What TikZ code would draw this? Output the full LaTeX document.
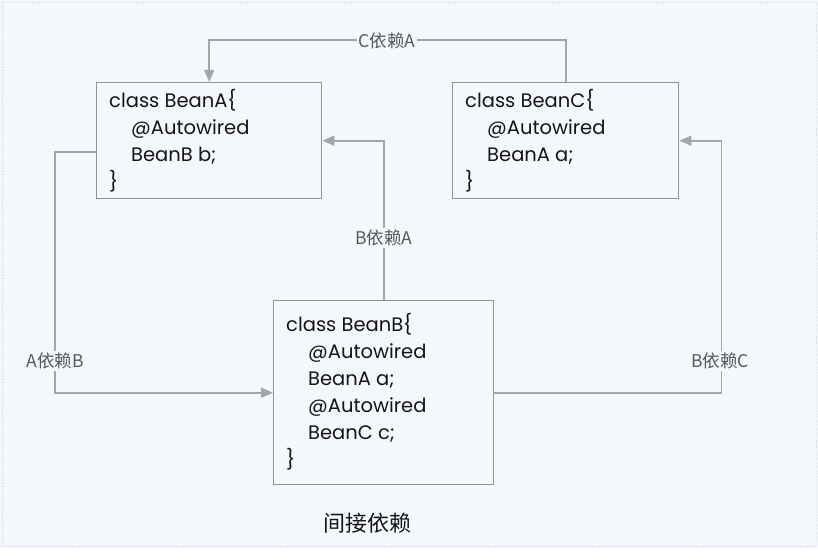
\documentclass[tikz,border=0pt]{standalone}
\usepackage{fontspec}
\setmainfont{Poppins}
\newfontfamily\cjk{Noto Sans CJK SC}
\usetikzlibrary{arrows.meta,calc}
\definecolor{bg}{HTML}{F4F7FC}
\definecolor{linec}{HTML}{A2A6AB}
\definecolor{boxc}{HTML}{8E9398}
\definecolor{txt}{HTML}{151515}
\definecolor{lbl}{HTML}{55585D}
\tikzset{
  beanbox/.style={draw=boxc, line width=1.4pt, fill=bg, anchor=north west, inner sep=0pt},
  code/.style={anchor=north west, align=left, inner sep=0pt, text=txt,
    font=\fontsize{19.5}{27}\selectfont},
  conn/.style={draw=linec, line width=1.6pt, -{Triangle[length=12pt,width=10pt]}},
  lab/.style={fill=bg, inner sep=2pt, text=lbl, font=\cjk\fontsize{17.5}{19}\selectfont},
}
\begin{document}
\begin{tikzpicture}[x=1pt,y=-1pt]
\useasboundingbox (0,0) rectangle (818,559);
\fill[white] (0,0) rectangle (818,559);
\fill[bg] (0,0) rectangle (818,548);
\draw[boxc!40, dotted, line width=0.6pt] (2,2) rectangle (816,546);

\node[beanbox, minimum width=225pt, minimum height=116pt] (A) at (96,82) {};
\node[beanbox, minimum width=226pt, minimum height=116pt] (C) at (452,82) {};
\node[beanbox, minimum width=220pt, minimum height=184pt] (B) at (273,300) {};

\node[code] (At) at ([shift={(13pt,-7pt)}]A.north west)
  {class BeanA\{\\\hspace*{22pt}@Autowired\\\hspace*{22pt}BeanB b;\\\}};
\node[code] (Ct) at ([shift={(13pt,-7pt)}]C.north west)
  {class BeanC\{\\\hspace*{22pt}@Autowired\\\hspace*{22pt}BeanA a;\\\}};
\node[code] (Bt) at ([shift={(13pt,-13pt)}]B.north west)
  {class BeanB\{\\\hspace*{22pt}@Autowired\\\hspace*{22pt}BeanA a;\\\hspace*{22pt}@Autowired\\\hspace*{22pt}BeanC c;\\\}};

% C depends on A
\draw[conn] (C.north) -- ++(0,-42) -| (A.north);
% B depends on A
\draw[conn] (B.north) |- (A.east);
% A depends on B
\draw[conn] ([yshift=-11pt]A.west) -- ++(-41,0) |- (B.west);
% B depends on C
\draw[conn] (B.east) -| ($(C.east)+(42pt,0)$) -- (C.east);

\node[lab] (lCA) at (387,41) {C依赖A};
\node[lab] (lBA) at (384,238) {B依赖A};
\node[lab] (lAB) at (55,361) {A依赖B};
\node[lab] (lBC) at (720,361) {B依赖C};

\node[text=txt, font=\cjk\fontsize{22}{24}\selectfont] (cap) at (367,523) {间接依赖};
\end{tikzpicture}
\end{document}
